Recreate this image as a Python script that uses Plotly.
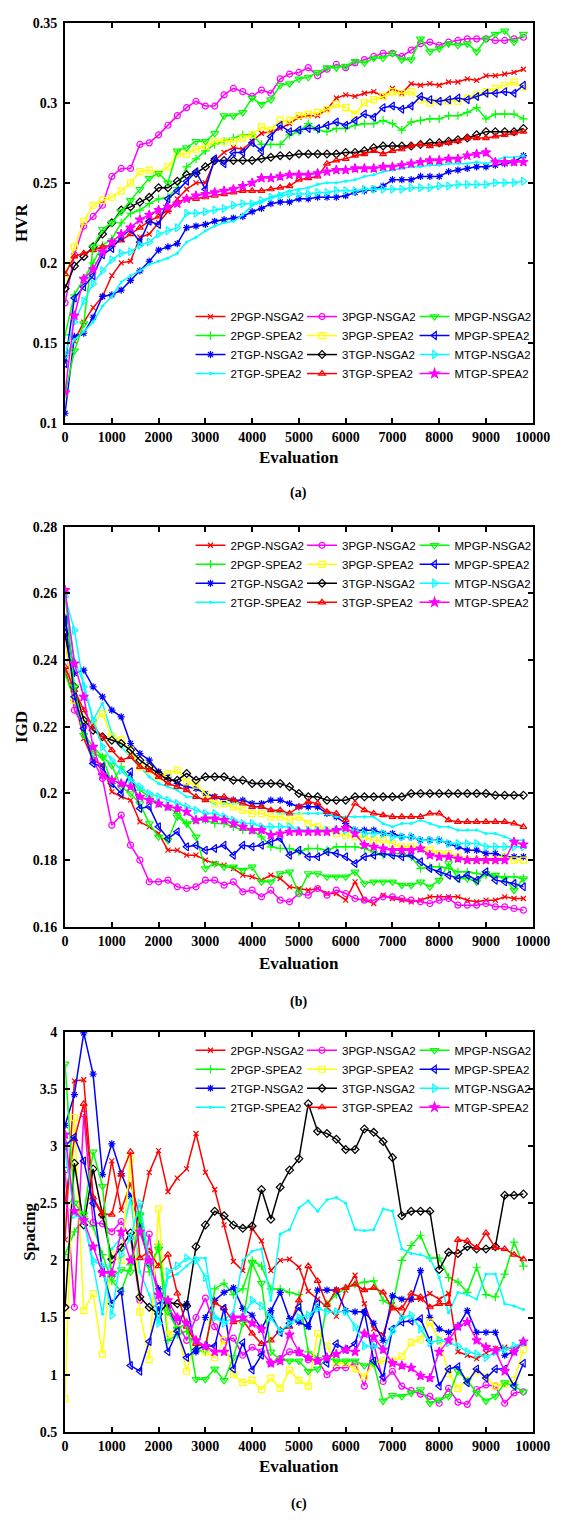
import plotly.graph_objects as go

# ---------------- data ----------------
evaluations = [0, 200, 400, 600, 800, 1000, 1200, 1400, 1600, 1800,
               2000, 2200, 2400, 2600, 2800, 3000, 3200, 3400, 3600, 3800,
               4000, 4200, 4400, 4600, 4800, 5000, 5200, 5400, 5600, 5800,
               6000, 6200, 6400, 6600, 6800, 7000, 7200, 7400, 7600, 7800,
               8000, 8200, 8400, 8600, 8800, 9000, 9200, 9400, 9600, 9800]

series_names = ["2PGP-NSGA2", "2PGP-SPEA2", "2TGP-NSGA2", "2TGP-SPEA2",
                "3PGP-NSGA2", "3PGP-SPEA2", "3TGP-NSGA2", "3TGP-SPEA2",
                "MPGP-NSGA2", "MPGP-SPEA2", "MTGP-NSGA2", "MTGP-SPEA2"]

# (a) HVR
hvr_2pgp_nsga2 = [0.140, 0.151, 0.163, 0.172, 0.179, 0.192, 0.200, 0.201, 0.216, 0.218, 0.225, 0.232, 0.240, 0.246, 0.250, 0.250, 0.264, 0.269, 0.272, 0.271, 0.276, 0.281, 0.282, 0.284, 0.287, 0.291, 0.292, 0.292, 0.296, 0.303, 0.305, 0.304, 0.306, 0.307, 0.304, 0.309, 0.306, 0.312, 0.311, 0.312, 0.311, 0.313, 0.313, 0.315, 0.314, 0.317, 0.317, 0.318, 0.319, 0.321]
hvr_2pgp_spea2 = [0.155, 0.180, 0.190, 0.200, 0.211, 0.215, 0.225, 0.231, 0.233, 0.237, 0.240, 0.241, 0.247, 0.260, 0.265, 0.270, 0.274, 0.276, 0.278, 0.280, 0.280, 0.274, 0.274, 0.274, 0.280, 0.282, 0.287, 0.283, 0.282, 0.284, 0.284, 0.286, 0.287, 0.287, 0.289, 0.287, 0.283, 0.288, 0.289, 0.290, 0.290, 0.292, 0.292, 0.294, 0.297, 0.290, 0.293, 0.293, 0.293, 0.290]
hvr_2tgp_nsga2 = [0.106, 0.154, 0.156, 0.166, 0.179, 0.180, 0.183, 0.189, 0.195, 0.201, 0.208, 0.210, 0.212, 0.222, 0.223, 0.224, 0.226, 0.227, 0.228, 0.229, 0.232, 0.234, 0.237, 0.238, 0.238, 0.240, 0.240, 0.241, 0.241, 0.241, 0.242, 0.244, 0.245, 0.246, 0.248, 0.252, 0.252, 0.252, 0.254, 0.254, 0.254, 0.257, 0.258, 0.259, 0.260, 0.260, 0.261, 0.262, 0.263, 0.267]
hvr_2tgp_spea2 = [0.140, 0.152, 0.157, 0.163, 0.173, 0.179, 0.188, 0.192, 0.195, 0.199, 0.201, 0.203, 0.206, 0.213, 0.216, 0.220, 0.223, 0.225, 0.226, 0.230, 0.236, 0.238, 0.241, 0.243, 0.245, 0.246, 0.247, 0.249, 0.250, 0.250, 0.251, 0.252, 0.254, 0.255, 0.257, 0.258, 0.259, 0.260, 0.260, 0.261, 0.261, 0.262, 0.262, 0.262, 0.263, 0.262, 0.264, 0.266, 0.266, 0.267]
hvr_3pgp_nsga2 = [0.175, 0.205, 0.223, 0.229, 0.236, 0.254, 0.259, 0.259, 0.274, 0.275, 0.280, 0.286, 0.292, 0.297, 0.301, 0.298, 0.298, 0.305, 0.309, 0.307, 0.304, 0.308, 0.306, 0.315, 0.318, 0.319, 0.322, 0.317, 0.321, 0.324, 0.322, 0.325, 0.327, 0.329, 0.331, 0.331, 0.329, 0.333, 0.337, 0.338, 0.336, 0.338, 0.339, 0.340, 0.340, 0.340, 0.339, 0.339, 0.340, 0.341]
hvr_3pgp_spea2 = [0.191, 0.210, 0.226, 0.236, 0.239, 0.241, 0.245, 0.250, 0.257, 0.258, 0.256, 0.260, 0.268, 0.268, 0.271, 0.273, 0.276, 0.276, 0.276, 0.278, 0.280, 0.285, 0.283, 0.289, 0.289, 0.292, 0.293, 0.294, 0.296, 0.299, 0.297, 0.293, 0.300, 0.302, 0.304, 0.307, 0.306, 0.307, 0.302, 0.300, 0.301, 0.301, 0.301, 0.303, 0.305, 0.307, 0.309, 0.311, 0.313, 0.310]
hvr_3tgp_nsga2 = [0.184, 0.198, 0.204, 0.210, 0.218, 0.225, 0.233, 0.235, 0.238, 0.241, 0.247, 0.247, 0.251, 0.255, 0.256, 0.260, 0.264, 0.264, 0.264, 0.264, 0.264, 0.265, 0.266, 0.267, 0.267, 0.268, 0.268, 0.268, 0.268, 0.268, 0.269, 0.269, 0.270, 0.272, 0.273, 0.273, 0.273, 0.273, 0.274, 0.275, 0.275, 0.276, 0.277, 0.278, 0.280, 0.282, 0.282, 0.282, 0.282, 0.284]
hvr_3tgp_spea2 = [0.193, 0.204, 0.206, 0.208, 0.210, 0.211, 0.214, 0.218, 0.222, 0.226, 0.229, 0.233, 0.238, 0.240, 0.240, 0.241, 0.242, 0.243, 0.244, 0.245, 0.245, 0.245, 0.246, 0.247, 0.248, 0.252, 0.253, 0.254, 0.262, 0.264, 0.265, 0.267, 0.268, 0.270, 0.268, 0.270, 0.271, 0.273, 0.274, 0.273, 0.274, 0.275, 0.276, 0.278, 0.278, 0.278, 0.279, 0.280, 0.281, 0.282]
hvr_mpgp_nsga2 = [0.118, 0.145, 0.162, 0.210, 0.221, 0.225, 0.232, 0.239, 0.246, 0.253, 0.256, 0.250, 0.270, 0.272, 0.276, 0.276, 0.281, 0.292, 0.292, 0.294, 0.303, 0.299, 0.302, 0.311, 0.312, 0.315, 0.316, 0.319, 0.322, 0.322, 0.323, 0.326, 0.325, 0.328, 0.328, 0.331, 0.327, 0.327, 0.340, 0.332, 0.334, 0.337, 0.336, 0.337, 0.332, 0.340, 0.343, 0.345, 0.338, 0.343]
hvr_mpgp_spea2 = [0.137, 0.178, 0.185, 0.192, 0.205, 0.209, 0.216, 0.221, 0.213, 0.226, 0.224, 0.240, 0.245, 0.251, 0.257, 0.246, 0.265, 0.262, 0.269, 0.269, 0.275, 0.270, 0.279, 0.286, 0.282, 0.283, 0.284, 0.284, 0.286, 0.288, 0.286, 0.289, 0.293, 0.291, 0.297, 0.298, 0.296, 0.298, 0.304, 0.302, 0.301, 0.302, 0.303, 0.302, 0.304, 0.306, 0.306, 0.307, 0.306, 0.311]
hvr_mtgp_nsga2 = [0.142, 0.163, 0.176, 0.187, 0.195, 0.202, 0.206, 0.207, 0.211, 0.213, 0.218, 0.220, 0.222, 0.231, 0.231, 0.232, 0.233, 0.234, 0.236, 0.237, 0.237, 0.239, 0.241, 0.242, 0.243, 0.243, 0.243, 0.244, 0.244, 0.245, 0.245, 0.245, 0.246, 0.246, 0.246, 0.246, 0.246, 0.247, 0.247, 0.247, 0.248, 0.248, 0.249, 0.249, 0.249, 0.249, 0.250, 0.250, 0.250, 0.251]
hvr_mtgp_spea2 = [0.119, 0.167, 0.190, 0.196, 0.207, 0.213, 0.218, 0.222, 0.227, 0.230, 0.233, 0.235, 0.237, 0.240, 0.242, 0.243, 0.244, 0.245, 0.246, 0.248, 0.250, 0.253, 0.253, 0.254, 0.255, 0.255, 0.255, 0.256, 0.257, 0.258, 0.258, 0.259, 0.259, 0.259, 0.260, 0.260, 0.261, 0.262, 0.263, 0.264, 0.264, 0.265, 0.265, 0.267, 0.268, 0.269, 0.263, 0.263, 0.263, 0.263]

# (b) IGD
igd_2pgp_nsga2 = [0.237, 0.228, 0.2165, 0.210, 0.2085, 0.2005, 0.199, 0.198, 0.1915, 0.190, 0.188, 0.183, 0.183, 0.1815, 0.1815, 0.180, 0.179, 0.1785, 0.1775, 0.1755, 0.175, 0.174, 0.1755, 0.1745, 0.172, 0.1715, 0.171, 0.1715, 0.170, 0.170, 0.168, 0.1735, 0.168, 0.167, 0.1695, 0.1685, 0.168, 0.1675, 0.168, 0.169, 0.169, 0.169, 0.169, 0.168, 0.1675, 0.168, 0.168, 0.169, 0.1685, 0.1685]
igd_2pgp_spea2 = [0.236, 0.228, 0.218, 0.214, 0.211, 0.203, 0.208, 0.204, 0.201, 0.199, 0.197, 0.196, 0.194, 0.191, 0.192, 0.192, 0.191, 0.191, 0.190, 0.189, 0.189, 0.187, 0.184, 0.1835, 0.1835, 0.1825, 0.1835, 0.1835, 0.183, 0.184, 0.184, 0.184, 0.1835, 0.1825, 0.1815, 0.182, 0.182, 0.181, 0.1775, 0.178, 0.178, 0.1775, 0.1765, 0.1765, 0.176, 0.1755, 0.175, 0.175, 0.175, 0.1745]
igd_2tgp_nsga2 = [0.2528, 0.236, 0.237, 0.232, 0.229, 0.225, 0.223, 0.215, 0.212, 0.210, 0.2065, 0.205, 0.203, 0.202, 0.2015, 0.200, 0.199, 0.198, 0.198, 0.198, 0.197, 0.197, 0.198, 0.198, 0.197, 0.196, 0.196, 0.196, 0.194, 0.193, 0.191, 0.189, 0.189, 0.189, 0.188, 0.188, 0.187, 0.187, 0.186, 0.186, 0.186, 0.185, 0.184, 0.183, 0.183, 0.182, 0.182, 0.181, 0.181, 0.181]
igd_2tgp_spea2 = [0.259, 0.240, 0.233, 0.222, 0.227, 0.218, 0.214, 0.211, 0.208, 0.205, 0.203, 0.202, 0.201, 0.199, 0.199, 0.198, 0.197, 0.197, 0.197, 0.197, 0.196, 0.196, 0.195, 0.194, 0.194, 0.194, 0.194, 0.194, 0.194, 0.193, 0.193, 0.193, 0.193, 0.193, 0.191, 0.190, 0.191, 0.191, 0.192, 0.191, 0.190, 0.190, 0.189, 0.189, 0.189, 0.188, 0.188, 0.187, 0.186, 0.186]
igd_3pgp_nsga2 = [0.247, 0.225, 0.220, 0.210, 0.2045, 0.1905, 0.1935, 0.1845, 0.180, 0.1735, 0.1735, 0.174, 0.172, 0.1715, 0.172, 0.174, 0.174, 0.1725, 0.1735, 0.1705, 0.171, 0.169, 0.171, 0.168, 0.1675, 0.170, 0.1695, 0.1715, 0.1695, 0.171, 0.170, 0.1685, 0.168, 0.168, 0.169, 0.169, 0.1685, 0.168, 0.1675, 0.167, 0.168, 0.1685, 0.1665, 0.1665, 0.1665, 0.167, 0.166, 0.166, 0.1655, 0.165]
igd_3pgp_spea2 = [0.246, 0.228, 0.222, 0.221, 0.224, 0.217, 0.216, 0.213, 0.208, 0.207, 0.205, 0.206, 0.207, 0.2035, 0.2025, 0.200, 0.197, 0.197, 0.196, 0.195, 0.194, 0.194, 0.193, 0.193, 0.192, 0.193, 0.191, 0.190, 0.189, 0.188, 0.1875, 0.187, 0.187, 0.186, 0.186, 0.185, 0.184, 0.184, 0.1835, 0.183, 0.182, 0.182, 0.181, 0.180, 0.180, 0.180, 0.180, 0.181, 0.180, 0.180]
igd_3tgp_nsga2 = [0.248, 0.232, 0.222, 0.219, 0.217, 0.216, 0.215, 0.213, 0.210, 0.208, 0.206, 0.204, 0.204, 0.206, 0.204, 0.205, 0.205, 0.205, 0.204, 0.204, 0.203, 0.203, 0.203, 0.203, 0.202, 0.200, 0.199, 0.199, 0.198, 0.198, 0.198, 0.199, 0.199, 0.199, 0.199, 0.199, 0.199, 0.200, 0.200, 0.200, 0.200, 0.200, 0.200, 0.200, 0.200, 0.200, 0.1995, 0.1995, 0.1995, 0.1995]
igd_3tgp_spea2 = [0.238, 0.231, 0.225, 0.220, 0.217, 0.213, 0.210, 0.211, 0.208, 0.207, 0.205, 0.203, 0.202, 0.201, 0.199, 0.198, 0.199, 0.199, 0.198, 0.197, 0.196, 0.196, 0.195, 0.195, 0.194, 0.196, 0.1975, 0.197, 0.1945, 0.194, 0.192, 0.197, 0.195, 0.194, 0.1935, 0.193, 0.193, 0.193, 0.193, 0.194, 0.194, 0.192, 0.1915, 0.1915, 0.1915, 0.1915, 0.1915, 0.1915, 0.191, 0.190]
igd_mpgp_nsga2 = [0.260, 0.232, 0.2175, 0.212, 0.211, 0.2085, 0.202, 0.200, 0.197, 0.191, 0.187, 0.186, 0.193, 0.191, 0.187, 0.1775, 0.179, 0.178, 0.178, 0.177, 0.178, 0.1735, 0.1735, 0.176, 0.1765, 0.170, 0.176, 0.176, 0.175, 0.175, 0.175, 0.1765, 0.173, 0.1735, 0.1735, 0.1735, 0.1725, 0.1725, 0.1735, 0.172, 0.174, 0.179, 0.1745, 0.1745, 0.1735, 0.176, 0.1755, 0.1745, 0.171, 0.1745]
igd_mpgp_spea2 = [0.252, 0.229, 0.2195, 0.209, 0.208, 0.203, 0.200, 0.2065, 0.1955, 0.196, 0.190, 0.1865, 0.1885, 0.184, 0.1845, 0.183, 0.1835, 0.1845, 0.1815, 0.1845, 0.184, 0.1845, 0.1855, 0.1865, 0.1815, 0.183, 0.181, 0.181, 0.1825, 0.182, 0.181, 0.179, 0.181, 0.1815, 0.182, 0.1815, 0.181, 0.1815, 0.1795, 0.1775, 0.1765, 0.1755, 0.1745, 0.1755, 0.174, 0.1765, 0.174, 0.1735, 0.173, 0.172]
igd_mtgp_nsga2 = [0.259, 0.249, 0.232, 0.222, 0.214, 0.210, 0.207, 0.204, 0.202, 0.200, 0.199, 0.198, 0.197, 0.196, 0.195, 0.194, 0.194, 0.193, 0.192, 0.191, 0.191, 0.190, 0.190, 0.190, 0.190, 0.189, 0.189, 0.189, 0.189, 0.189, 0.189, 0.189, 0.188, 0.188, 0.188, 0.187, 0.187, 0.187, 0.186, 0.186, 0.186, 0.185, 0.185, 0.185, 0.185, 0.184, 0.184, 0.184, 0.184, 0.184]
igd_mtgp_spea2 = [0.261, 0.239, 0.229, 0.214, 0.2055, 0.204, 0.203, 0.202, 0.199, 0.198, 0.197, 0.196, 0.1955, 0.1945, 0.192, 0.1925, 0.1925, 0.192, 0.191, 0.190, 0.189, 0.189, 0.1875, 0.188, 0.1885, 0.1885, 0.1885, 0.1885, 0.1885, 0.189, 0.1897, 0.188, 0.1845, 0.184, 0.1835, 0.183, 0.183, 0.183, 0.1835, 0.1815, 0.181, 0.181, 0.1805, 0.180, 0.180, 0.180, 0.180, 0.180, 0.1855, 0.1847]

# (c) Spacing
sp_2pgp_nsga2 = [2.18, 3.57, 3.58, 2.54, 2.39, 2.87, 2.44, 2.67, 2.39, 2.77, 2.96, 2.60, 2.72, 2.80, 3.11, 2.77, 2.62, 2.31, 1.99, 1.91, 2.28, 2.17, 1.91, 2.00, 2.01, 1.94, 1.73, 1.66, 1.59, 1.51, 1.74, 1.87, 1.62, 1.40, 1.35, 1.61, 1.51, 1.66, 1.66, 1.71, 1.66, 1.71, 1.20, 1.17, 1.14, 1.19, 1.23, 1.24, 1.23, 1.27]
sp_2pgp_spea2 = [2.05, 2.25, 2.38, 2.30, 2.05, 1.82, 1.73, 1.96, 2.40, 1.90, 2.14, 1.30, 1.35, 1.38, 1.22, 1.20, 1.75, 1.80, 1.70, 1.75, 2.00, 1.95, 1.75, 1.75, 1.72, 1.70, 1.20, 1.15, 1.62, 1.70, 1.76, 1.79, 1.81, 1.82, 1.65, 1.60, 2.00, 2.13, 2.22, 2.02, 2.02, 1.85, 1.81, 1.72, 1.94, 1.70, 1.68, 1.88, 2.16, 1.95]
sp_2tgp_nsga2 = [3.18, 3.45, 3.99, 3.63, 2.75, 3.02, 2.76, 2.56, 2.30, 1.97, 1.75, 1.60, 1.40, 1.62, 1.20, 1.50, 1.65, 1.72, 1.76, 1.58, 1.52, 1.40, 1.56, 1.72, 1.49, 1.46, 1.42, 1.74, 1.74, 1.74, 1.56, 1.55, 1.55, 1.45, 1.30, 1.69, 1.66, 1.66, 1.91, 1.50, 1.40, 1.37, 1.42, 1.56, 1.37, 1.37, 1.37, 1.17, 1.20, 1.28]
sp_2tgp_spea2 = [2.95, 2.45, 2.35, 1.96, 1.53, 2.10, 2.20, 2.54, 1.90, 1.70, 1.45, 1.85, 1.88, 1.95, 2.02, 2.02, 1.50, 1.48, 1.55, 2.00, 2.08, 2.10, 1.65, 2.23, 2.27, 2.46, 2.52, 2.43, 2.53, 2.55, 2.50, 2.27, 2.26, 2.27, 2.45, 2.43, 2.10, 2.06, 2.05, 2.02, 1.85, 1.54, 1.72, 1.70, 1.66, 1.88, 1.88, 1.62, 1.60, 1.57]
sp_3pgp_nsga2 = [2.79, 1.59, 3.28, 2.33, 2.32, 2.25, 2.34, 2.20, 1.65, 2.23, 1.65, 1.60, 1.45, 1.30, 1.50, 1.67, 1.42, 1.30, 1.32, 1.17, 1.24, 1.20, 1.10, 1.14, 1.20, 1.19, 1.13, 1.12, 1.00, 1.06, 1.06, 1.10, 0.90, 1.27, 0.94, 1.03, 0.90, 0.86, 0.83, 0.81, 0.75, 0.88, 0.76, 0.74, 0.87, 0.91, 0.90, 0.75, 0.84, 0.85]
sp_3pgp_spea2 = [0.79, 3.25, 1.56, 1.71, 1.18, 2.05, 2.00, 2.89, 1.55, 1.13, 2.45, 1.35, 1.40, 1.03, 1.30, 1.20, 1.15, 1.30, 1.00, 0.93, 0.95, 0.87, 0.97, 0.88, 1.04, 0.95, 0.90, 1.36, 1.25, 1.10, 1.10, 1.05, 0.98, 1.10, 1.12, 1.12, 1.16, 1.28, 1.31, 1.46, 1.30, 1.01, 0.88, 0.95, 1.03, 0.98, 0.90, 0.92, 0.95, 1.22]
sp_3tgp_nsga2 = [1.59, 2.85, 2.31, 2.80, 2.40, 2.01, 2.11, 2.24, 1.68, 1.59, 1.53, 1.63, 1.62, 1.60, 2.12, 2.31, 2.43, 2.39, 2.31, 2.28, 2.30, 2.62, 2.36, 2.64, 2.79, 2.89, 3.37, 3.13, 3.11, 3.06, 2.97, 2.97, 3.15, 3.12, 3.04, 2.90, 2.39, 2.43, 2.43, 2.43, 1.92, 2.07, 2.06, 2.12, 2.10, 2.10, 2.12, 2.57, 2.57, 2.58]
sp_3tgp_spea2 = [2.51, 3.06, 3.37, 2.55, 2.41, 2.40, 2.75, 2.95, 2.02, 2.08, 1.95, 2.05, 1.71, 1.42, 1.27, 1.25, 1.63, 1.58, 1.46, 1.48, 1.36, 1.27, 1.30, 1.39, 1.42, 1.65, 1.95, 1.82, 1.61, 1.74, 1.76, 1.79, 1.74, 1.76, 1.72, 1.58, 1.58, 1.71, 1.68, 1.59, 1.62, 1.62, 2.18, 2.17, 2.11, 2.24, 2.11, 2.10, 2.05, 2.01]
sp_mpgp_nsga2 = [3.72, 2.50, 2.40, 2.95, 2.65, 1.85, 1.92, 1.90, 2.40, 1.95, 2.10, 1.55, 1.40, 1.45, 0.96, 0.96, 1.05, 0.95, 1.15, 1.45, 1.98, 1.80, 1.20, 1.13, 1.12, 1.12, 1.03, 1.05, 1.15, 1.12, 1.12, 1.12, 1.08, 1.10, 0.77, 0.82, 0.81, 0.84, 0.87, 0.75, 0.78, 0.81, 1.03, 0.95, 0.84, 0.77, 0.81, 0.93, 0.90, 0.85]
sp_mpgp_spea2 = [3.00, 3.08, 2.87, 2.50, 1.91, 1.62, 1.73, 1.08, 1.03, 1.29, 1.60, 1.20, 1.38, 1.15, 1.22, 1.25, 1.25, 1.58, 1.05, 1.28, 1.04, 1.17, 1.53, 1.37, 1.45, 1.59, 1.43, 1.62, 1.10, 1.27, 1.22, 1.27, 1.55, 1.12, 0.98, 1.40, 1.46, 1.47, 1.49, 1.30, 0.90, 1.05, 1.07, 0.93, 1.05, 0.97, 1.05, 1.05, 0.90, 1.10]
sp_mtgp_nsga2 = [2.97, 2.40, 2.35, 2.00, 1.95, 1.52, 2.05, 2.20, 2.50, 2.00, 1.45, 1.90, 1.95, 2.02, 2.00, 1.85, 1.50, 1.45, 1.50, 1.50, 1.65, 1.60, 1.50, 1.38, 1.45, 1.50, 1.52, 1.58, 1.55, 1.55, 1.55, 1.42, 1.25, 1.25, 1.22, 1.38, 1.50, 1.52, 1.40, 1.28, 1.30, 1.28, 1.25, 1.20, 1.18, 1.15, 1.20, 1.22, 1.25, 1.28]
sp_mtgp_spea2 = [3.10, 2.43, 2.35, 2.12, 1.89, 1.89, 2.25, 2.00, 2.25, 2.00, 1.70, 1.65, 1.50, 1.45, 1.30, 1.25, 1.20, 1.20, 1.50, 1.50, 1.45, 1.40, 1.10, 1.12, 1.35, 1.20, 1.15, 1.12, 1.15, 1.18, 1.22, 1.20, 1.36, 1.33, 1.22, 1.10, 1.08, 1.06, 0.99, 0.97, 1.20, 1.30, 1.42, 1.46, 1.30, 1.24, 1.21, 1.03, 1.20, 1.29]

hvr_values = [hvr_2pgp_nsga2, hvr_2pgp_spea2, hvr_2tgp_nsga2, hvr_2tgp_spea2,
              hvr_3pgp_nsga2, hvr_3pgp_spea2, hvr_3tgp_nsga2, hvr_3tgp_spea2,
              hvr_mpgp_nsga2, hvr_mpgp_spea2, hvr_mtgp_nsga2, hvr_mtgp_spea2]
igd_values = [igd_2pgp_nsga2, igd_2pgp_spea2, igd_2tgp_nsga2, igd_2tgp_spea2,
              igd_3pgp_nsga2, igd_3pgp_spea2, igd_3tgp_nsga2, igd_3tgp_spea2,
              igd_mpgp_nsga2, igd_mpgp_spea2, igd_mtgp_nsga2, igd_mtgp_spea2]
sp_values = [sp_2pgp_nsga2, sp_2pgp_spea2, sp_2tgp_nsga2, sp_2tgp_spea2,
             sp_3pgp_nsga2, sp_3pgp_spea2, sp_3tgp_nsga2, sp_3tgp_spea2,
             sp_mpgp_nsga2, sp_mpgp_spea2, sp_mtgp_nsga2, sp_mtgp_spea2]

x_ticks = [0, 1000, 2000, 3000, 4000, 5000, 6000, 7000, 8000, 9000, 10000]
hvr_ticks = [0.1, 0.15, 0.2, 0.25, 0.3, 0.35]
hvr_ticktext = ["0.1", "0.15", "0.2", "0.25", "0.3", "0.35"]
igd_ticks = [0.16, 0.18, 0.2, 0.22, 0.24, 0.26, 0.28]
igd_ticktext = ["0.16", "0.18", "0.2", "0.22", "0.24", "0.26", "0.28"]
sp_ticks = [0.5, 1, 1.5, 2, 2.5, 3, 3.5, 4]
sp_ticktext = ["0.5", "1", "1.5", "2", "2.5", "3", "3.5", "4"]

# ---------------- styles ----------------
colors = ["#FF0000", "#00FF00", "#0000FF", "#00FFFF",
          "#FF00FF", "#FFFF00", "#000000", "#FF0000",
          "#00FF00", "#0000FF", "#00FFFF", "#FF00FF"]
symbols = ["x-thin-open", "cross-thin-open", "asterisk-open", "circle",
           "circle-open", "square-open", "diamond-open", "triangle-up-open",
           "triangle-down-open", "triangle-left-open", "triangle-right-open", "star"]
sizes = [5, 6, 6, 2, 6, 6, 6, 6, 7, 7, 7, 7]

W, H = 570, 1520
px_left, px_right = 63.5, 550
panels = [
    dict(vals=hvr_values, top=16, bot=420, rng=[0.1, 0.35], tv=hvr_ticks, tt=hvr_ticktext,
         ytitle="HVR", ytx=19, leg_top=298, label="(a)", ev_y=455, lab_y=491),
    dict(vals=igd_values, top=525, bot=929, rng=[0.16, 0.28], tv=igd_ticks, tt=igd_ticktext,
         ytitle="IGD", ytx=19, leg_top=529, label="(b)", ev_y=966, lab_y=1005),
    dict(vals=sp_values, top=1035, bot=1439, rng=[0.5, 4], tv=sp_ticks, tt=sp_ticktext,
         ytitle="Spacing", ytx=27, leg_top=1039, label="(c)", ev_y=1474, lab_y=1512),
]
leg_cols_px = [194, 310, 427]

fig = go.Figure()
layout = dict(width=W, height=H, margin=dict(l=0, r=0, t=0, b=0),
              paper_bgcolor="white", plot_bgcolor="white", showlegend=True)
annotations = []

serif = "Liberation Serif"
tickfont = dict(family=serif, size=14, color="black", weight="bold")

for p_i, p in enumerate(panels):
    ax = "" if p_i == 0 else str(p_i + 1)
    for s_i, name in enumerate(series_names):
        leg_idx = p_i * 3 + s_i // 4 + 1
        leg_name = "legend" if leg_idx == 1 else "legend%d" % leg_idx
        fig.add_trace(go.Scatter(
            x=evaluations, y=p["vals"][s_i], name=name, mode="lines+markers",
            line=dict(color=colors[s_i], width=1.5),
            marker=dict(symbol=symbols[s_i], size=sizes[s_i], color=colors[s_i],
                        line=dict(color=colors[s_i], width=1.2)),
            xaxis="x" + ax, yaxis="y" + ax, legend=leg_name))
    layout["xaxis" + ax] = dict(
        domain=[px_left / W, px_right / W], range=[0, 10000], anchor="y" + ax,
        tickvals=x_ticks, ticktext=[str(v) for v in x_ticks],
        showline=True, linecolor="black", linewidth=2, mirror="ticks",
        ticks="inside", ticklen=5, tickwidth=1.5, tickcolor="black",
        showgrid=False, zeroline=False, tickfont=tickfont)
    layout["yaxis" + ax] = dict(
        domain=[1 - p["bot"] / H, 1 - p["top"] / H], range=p["rng"], anchor="x" + ax,
        tickvals=p["tv"], ticktext=p["tt"],
        showline=True, linecolor="black", linewidth=2, mirror="ticks",
        ticks="inside", ticklen=5, tickwidth=1.5, tickcolor="black",
        showgrid=False, zeroline=False, tickfont=tickfont, ticklabelstandoff=3)
    for c in range(3):
        leg_idx = p_i * 3 + c + 1
        leg_name = "legend" if leg_idx == 1 else "legend%d" % leg_idx
        layout[leg_name] = dict(
            x=leg_cols_px[c] / W, y=1 - p["leg_top"] / H, xanchor="left", yanchor="top",
            orientation="v", bgcolor="rgba(0,0,0,0)", borderwidth=0,
            font=dict(family="Liberation Sans", size=11.5, color="black"),
            tracegroupgap=0, itemwidth=30)
    annotations.append(dict(text=p["ytitle"], x=p["ytx"] / W, y=1 - (p["top"] + p["bot"]) / 2 / H,
                            xref="paper", yref="paper", showarrow=False, textangle=-90,
                            xanchor="center", yanchor="middle",
                            font=dict(family=serif, size=17, color="black", weight="bold")))
    annotations.append(dict(text="Evaluation", x=(px_left + px_right) / 2 / W, y=1 - p["ev_y"] / H,
                            xref="paper", yref="paper", showarrow=False,
                            xanchor="center", yanchor="middle",
                            font=dict(family=serif, size=17, color="black", weight="bold")))
    annotations.append(dict(text=p["label"], x=(px_left + px_right) / 2 / W, y=1 - p["lab_y"] / H,
                            xref="paper", yref="paper", showarrow=False,
                            xanchor="center", yanchor="middle",
                            font=dict(family=serif, size=14, color="black", weight="bold")))

layout["annotations"] = annotations
fig.update_layout(**layout)
fig.write_html("out.html")
